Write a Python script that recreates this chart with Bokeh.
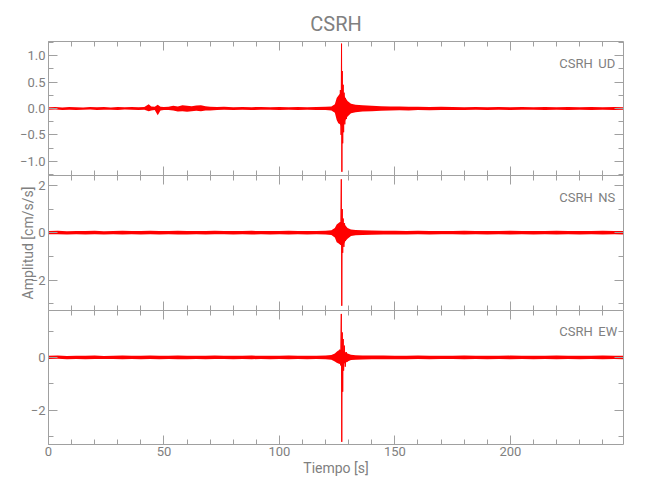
from bokeh.plotting import figure
from bokeh.layouts import column
from bokeh.models import LinearAxis, SingleIntervalTicker, Range1d, Label
from bokeh.embed import file_html
from bokeh.resources import INLINE

# ---------------- data ----------------
title_text = "CSRH"
station = "CSRH"
channels = ["UD", "NS", "EW"]
x_label = "Tiempo [s]"
y_label = "Amplitud [cm/s/s]"

x_limits = [0, 249]
ud_limits = [-1.27, 1.27]
ns_limits = [-3.29, 2.42]
ew_limits = [-3.3, 1.78]

ud_tick_labels = {-1.0: "\u22121.0", -0.5: "\u22120.5", 0.0: "0.0", 0.5: "0.5", 1.0: "1.0"}
ns_tick_labels = {-2: "\u22122", 0: "0", 2: "2"}
ew_tick_labels = {-2: "\u22122", 0: "0", 2: "2"}

# envelope of each trace: (time s, upper, lower)
ud_env = [
    (0, 0.025, -0.025), (3, 0.03, -0.02), (6, 0.02, -0.03), (9, 0.03, -0.025),
    (12, 0.025, -0.03), (15, 0.02, -0.025), (18, 0.03, -0.02), (21, 0.025, -0.03),
    (24, 0.03, -0.025), (27, 0.02, -0.025), (30, 0.03, -0.03), (33, 0.025, -0.02),
    (36, 0.03, -0.025), (39, 0.025, -0.03), (41.5, 0.03, -0.025), (43.4, 0.08, -0.05),
    (44.5, 0.04, -0.04), (46, 0.035, -0.03), (47.3, 0.07, -0.13), (48.5, 0.035, -0.04),
    (50, 0.03, -0.03), (52, 0.035, -0.03), (54, 0.05, -0.04), (56, 0.04, -0.055),
    (58, 0.06, -0.05), (60, 0.05, -0.06), (62, 0.045, -0.05), (64, 0.055, -0.045),
    (66, 0.06, -0.05), (68, 0.045, -0.04), (70, 0.035, -0.04), (73, 0.03, -0.03),
    (76, 0.035, -0.025), (80, 0.025, -0.03), (84, 0.03, -0.025), (88, 0.025, -0.03),
    (92, 0.03, -0.025), (96, 0.025, -0.025), (100, 0.03, -0.03), (104, 0.025, -0.025),
    (108, 0.03, -0.03), (112, 0.025, -0.025), (116, 0.03, -0.03), (120, 0.035, -0.03),
    (122.5, 0.04, -0.04), (124, 0.08, -0.08), (124.8, 0.2, -0.22), (125.5, 0.24, -0.28),
    (126.2, 0.28, -0.3), (127.0, 0.3, -0.35), (127.8, 0.26, -0.3), (128.6, 0.2, -0.22),
    (129.5, 0.14, -0.15), (131, 0.09, -0.09), (133, 0.07, -0.07), (136, 0.06, -0.055),
    (140, 0.05, -0.05), (144, 0.045, -0.045), (148, 0.04, -0.04), (152, 0.04, -0.035),
    (156, 0.035, -0.04), (160, 0.035, -0.03), (165, 0.03, -0.035), (170, 0.035, -0.03),
    (175, 0.03, -0.03), (180, 0.025, -0.03), (185, 0.03, -0.025), (190, 0.025, -0.03),
    (195, 0.03, -0.025), (200, 0.025, -0.03), (205, 0.03, -0.025), (210, 0.025, -0.025),
    (215, 0.03, -0.03), (220, 0.025, -0.025), (225, 0.03, -0.03), (230, 0.025, -0.025),
    (235, 0.03, -0.03), (240, 0.025, -0.025), (245, 0.03, -0.03), (249, 0.025, -0.025),
]
ns_env = [
    (0, 0.07, -0.07), (4, 0.08, -0.06), (8, 0.06, -0.08), (12, 0.075, -0.07),
    (16, 0.07, -0.075), (20, 0.08, -0.07), (24, 0.065, -0.075), (28, 0.075, -0.065),
    (32, 0.08, -0.08), (36, 0.07, -0.07), (40, 0.075, -0.075), (44, 0.08, -0.07),
    (48, 0.07, -0.08), (52, 0.075, -0.07), (56, 0.08, -0.075), (60, 0.07, -0.08),
    (64, 0.075, -0.07), (68, 0.07, -0.075), (72, 0.08, -0.07), (76, 0.07, -0.07),
    (80, 0.075, -0.075), (84, 0.07, -0.07), (88, 0.08, -0.075), (92, 0.07, -0.07),
    (96, 0.075, -0.08), (100, 0.07, -0.07), (104, 0.08, -0.075), (108, 0.07, -0.07),
    (112, 0.075, -0.075), (116, 0.07, -0.07), (120, 0.08, -0.08), (122.5, 0.1, -0.1),
    (124, 0.2, -0.2), (124.8, 0.35, -0.4), (125.5, 0.4, -0.45), (126.2, 0.45, -0.5),
    (127.0, 0.45, -0.55), (127.8, 0.4, -0.5), (128.6, 0.3, -0.35), (129.5, 0.2, -0.25),
    (131, 0.14, -0.14), (133, 0.11, -0.11), (136, 0.1, -0.1), (140, 0.09, -0.09),
    (145, 0.085, -0.08), (150, 0.08, -0.08), (155, 0.075, -0.08), (160, 0.08, -0.07),
    (165, 0.07, -0.075), (170, 0.075, -0.07), (175, 0.07, -0.07), (180, 0.08, -0.075),
    (185, 0.07, -0.07), (190, 0.075, -0.08), (195, 0.07, -0.07), (200, 0.08, -0.075),
    (205, 0.07, -0.07), (210, 0.075, -0.075), (215, 0.07, -0.07), (220, 0.08, -0.08),
    (225, 0.07, -0.07), (230, 0.075, -0.075), (235, 0.07, -0.07), (240, 0.08, -0.075),
    (245, 0.07, -0.07), (249, 0.075, -0.075),
]
ew_env = [
    (0, 0.06, -0.06), (4, 0.07, -0.05), (8, 0.055, -0.065), (12, 0.065, -0.06),
    (16, 0.06, -0.065), (20, 0.07, -0.06), (24, 0.055, -0.06), (28, 0.065, -0.055),
    (32, 0.07, -0.07), (36, 0.06, -0.06), (40, 0.065, -0.065), (44, 0.07, -0.06),
    (48, 0.06, -0.07), (52, 0.065, -0.06), (56, 0.07, -0.065), (60, 0.06, -0.07),
    (64, 0.065, -0.06), (68, 0.06, -0.065), (72, 0.07, -0.06), (76, 0.06, -0.06),
    (80, 0.065, -0.065), (84, 0.06, -0.06), (88, 0.07, -0.065), (92, 0.06, -0.06),
    (96, 0.065, -0.07), (100, 0.06, -0.06), (104, 0.07, -0.065), (108, 0.06, -0.06),
    (112, 0.065, -0.065), (116, 0.06, -0.06), (120, 0.07, -0.07), (122.5, 0.09, -0.09),
    (124, 0.15, -0.15), (124.8, 0.22, -0.2), (125.5, 0.26, -0.23), (126.2, 0.28, -0.25),
    (127.0, 0.28, -0.3), (127.8, 0.25, -0.25), (128.6, 0.2, -0.2), (129.5, 0.15, -0.15),
    (131, 0.1, -0.1), (133, 0.085, -0.085), (136, 0.075, -0.075), (140, 0.07, -0.07),
    (145, 0.07, -0.065), (150, 0.065, -0.07), (155, 0.06, -0.065), (160, 0.07, -0.06),
    (165, 0.06, -0.065), (170, 0.065, -0.06), (175, 0.06, -0.06), (180, 0.07, -0.065),
    (185, 0.06, -0.06), (190, 0.065, -0.07), (195, 0.06, -0.06), (200, 0.07, -0.065),
    (205, 0.06, -0.06), (210, 0.065, -0.065), (215, 0.06, -0.06), (220, 0.07, -0.07),
    (225, 0.06, -0.06), (230, 0.065, -0.065), (235, 0.06, -0.06), (240, 0.07, -0.065),
    (245, 0.06, -0.06), (249, 0.065, -0.065),
]

# main S-wave pulse (time s, amplitude)
ud_spike_t = [125.2, 125.6, 126.0, 126.4, 126.7, 126.9, 127.05, 127.2, 127.4, 127.6, 127.8, 128.0, 128.3, 128.6, 129.0, 129.5, 130.0]
ud_spike_y = [0.0, 0.2, -0.25, 0.35, -0.5, 1.23, -1.2, 0.71, -0.66, 0.45, -0.45, 0.3, -0.3, 0.2, -0.2, 0.1, 0.0]
ns_spike_t = [125.5, 126.2, 126.5, 126.8, 127.0, 127.2, 127.4, 127.6, 127.9, 128.2, 128.6, 129.0, 129.5, 130.0]
ns_spike_y = [0.0, 0.4, -0.5, 2.26, -3.09, 1.0, -0.85, 0.6, -0.6, 0.4, -0.35, 0.2, -0.15, 0.0]
ew_spike_t = [125.5, 126.2, 126.5, 126.8, 127.0, 127.2, 127.4, 127.6, 127.8, 128.1, 128.5, 129.0, 129.5, 130.0]
ew_spike_y = [0.0, 0.3, -0.3, 1.65, -3.2, 0.95, -1.3, 0.7, -0.5, 0.45, -0.35, 0.2, -0.15, 0.0]

# ---------------- styling ----------------
FONT = "Roboto"
GREY_TEXT = "#808080"
GREY_LINE = "#a0a0a0"
RED = "#ff0000"
FRAME_W = 575


def style_axis(ax, labels=None, font_size="13px", standoff=2):
    ax.axis_line_color = GREY_LINE
    ax.major_tick_line_color = GREY_LINE
    ax.minor_tick_line_color = GREY_LINE
    ax.major_tick_in = 9
    ax.major_tick_out = 0
    ax.minor_tick_in = 5
    ax.minor_tick_out = 0
    if labels is None:
        ax.major_label_text_font_size = "0px"
        ax.major_label_text_color = None
        ax.major_label_standoff = 0
    else:
        ax.major_label_text_font = FONT
        ax.major_label_text_font_size = font_size
        ax.major_label_text_color = GREY_TEXT
        ax.major_label_standoff = standoff
        if labels:
            ax.major_label_overrides = labels


def make_panel(env, spk_t, spk_y, ylim, y_interval, y_labels, chan, label_y,
               frame_h, top_border, bottom_border, show_x_labels, ylab=None):
    p = figure(frame_width=FRAME_W, frame_height=frame_h,
               x_range=Range1d(*x_limits), y_range=Range1d(*ylim),
               output_backend="svg", toolbar_location=None,
               x_axis_location=None, y_axis_location=None,
               min_border_left=48, min_border_right=12,
               min_border_top=top_border, min_border_bottom=bottom_border,
               outline_line_color=None, background_fill_color="white",
               border_fill_color="white")
    p.grid.visible = False

    t = [r[0] for r in env]
    hi = [r[1] for r in env]
    lo = [r[2] for r in env]
    p.varea(x=t, y1=lo, y2=hi, fill_color=RED, fill_alpha=1.0)
    p.line(x=spk_t, y=spk_y, line_color=RED, line_width=1)

    for side in ("left", "right"):
        ax = LinearAxis(ticker=SingleIntervalTicker(interval=y_interval, num_minor_ticks=2))
        style_axis(ax, y_labels if side == "left" else None, standoff=3)
        if side == "left" and ylab:
            ax.axis_label = ylab
            ax.axis_label_text_font = FONT
            ax.axis_label_text_font_size = "14px"
            ax.axis_label_text_font_style = "normal"
            ax.axis_label_text_color = GREY_TEXT
            ax.axis_label_standoff = -8
        p.add_layout(ax, side)
    for side in ("below", "above"):
        ax = LinearAxis(ticker=SingleIntervalTicker(interval=50, num_minor_ticks=5))
        if side == "below" and show_x_labels:
            style_axis(ax, {}, standoff=2)
            ax.axis_label = x_label
            ax.axis_label_text_font = FONT
            ax.axis_label_text_font_size = "14px"
            ax.axis_label_text_font_style = "normal"
            ax.axis_label_text_color = GREY_TEXT
            ax.axis_label_standoff = 1
        else:
            style_axis(ax, None)
        p.add_layout(ax, side)

    p.add_layout(Label(x=221.2, y=label_y, text=station, text_font=FONT,
                       text_font_size="13px", text_color=GREY_TEXT,
                       text_align="left", text_baseline="middle"))
    p.add_layout(Label(x=238.1, y=label_y, text=chan, text_font=FONT,
                       text_font_size="13px", text_color=GREY_TEXT,
                       text_align="left", text_baseline="middle"))
    return p


p1 = make_panel(ud_env, ud_spike_t, ud_spike_y, ud_limits, 0.5, ud_tick_labels,
                channels[0], 0.86, 134, 41, 0, False)
p2 = make_panel(ns_env, ns_spike_t, ns_spike_y, ns_limits, 2, ns_tick_labels,
                channels[1], 1.5, 135, 0, 0, False, ylab=y_label)
p3 = make_panel(ew_env, ew_spike_t, ew_spike_y, ew_limits, 2, ew_tick_labels,
                channels[2], 1.0, 134, 0, 47, True)

p1.title.text = title_text
p1.title.align = "center"
p1.title.text_font = FONT
p1.title.text_font_size = "20px"
p1.title.text_font_style = "normal"
p1.title.text_color = GREY_TEXT
p1.title.standoff = 12

layout = column(p1, p2, p3)
open("out.html", "w").write(file_html(layout, INLINE))
